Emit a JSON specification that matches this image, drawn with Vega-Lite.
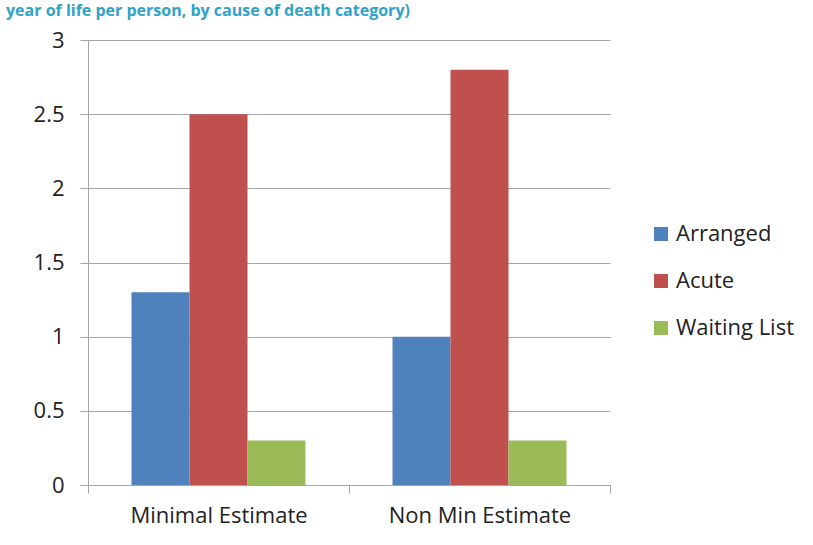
{
  "$schema": "https://vega.github.io/schema/vega-lite/v6.json",
  "width": 522,
  "height": 445,
  "autosize": "none",
  "padding": {"left": 88, "top": 40, "right": 203, "bottom": 60},
  "background": "white",
  "title": {
    "text": "year of life per person, by cause of death category)",
    "anchor": "start",
    "frame": "group",
    "baseline": "top",
    "offset": 10,
    "dx": -82,
    "font": "Open Sans",
    "fontSize": 16,
    "fontWeight": "bold",
    "color": "#31a2c7"
  },
  "data": {
    "values": [
      {"estimate": "Minimal Estimate", "cause": "Arranged", "value": 1.3},
      {"estimate": "Minimal Estimate", "cause": "Acute", "value": 2.5},
      {"estimate": "Minimal Estimate", "cause": "Waiting List", "value": 0.3},
      {"estimate": "Non Min Estimate", "cause": "Arranged", "value": 1.0},
      {"estimate": "Non Min Estimate", "cause": "Acute", "value": 2.8},
      {"estimate": "Non Min Estimate", "cause": "Waiting List", "value": 0.3}
    ]
  },
  "mark": {"type": "bar"},
  "encoding": {
    "x": {
      "field": "estimate",
      "type": "nominal",
      "title": null,
      "scale": {"paddingInner": 0, "paddingOuter": 0},
      "axis": {
        "tickBand": "extent",
        "labelAngle": 0,
        "labelLimit": 0,
        "labelFont": "Open Sans",
        "labelFontSize": 22,
        "labelColor": "#222222",
        "labelPadding": 12,
        "tickSize": 8,
        "tickColor": "#a6a6a6",
        "domainColor": "#a6a6a6",
        "grid": false
      }
    },
    "xOffset": {
      "field": "cause",
      "type": "nominal",
      "sort": ["Arranged", "Acute", "Waiting List"],
      "scale": {"paddingInner": 0, "paddingOuter": 0.75}
    },
    "y": {
      "field": "value",
      "type": "quantitative",
      "title": null,
      "scale": {"domain": [0, 3], "nice": false},
      "axis": {
        "values": [0, 0.5, 1, 1.5, 2, 2.5, 3],
        "format": "~g",
        "labelFont": "Open Sans",
        "labelFontSize": 22,
        "labelColor": "#222222",
        "labelPadding": 16,
        "tickSize": 8,
        "tickColor": "#a6a6a6",
        "domainColor": "#a6a6a6",
        "gridColor": "#a6a6a6",
        "gridWidth": 1
      }
    },
    "color": {
      "field": "cause",
      "type": "nominal",
      "sort": ["Arranged", "Acute", "Waiting List"],
      "scale": {"range": ["#4f81bd", "#c0504d", "#9bbb59"]},
      "legend": {
        "title": null,
        "orient": "none",
        "legendX": 562,
        "legendY": 183,
        "symbolType": "square",
        "symbolSize": 196,
        "symbolStrokeWidth": 0,
        "labelFont": "Open Sans",
        "labelFontSize": 22,
        "labelLimit": 0,
        "labelColor": "#222222",
        "labelOffset": 4,
        "rowPadding": 25
      }
    }
  },
  "config": {
    "view": {"stroke": null}
  }
}
